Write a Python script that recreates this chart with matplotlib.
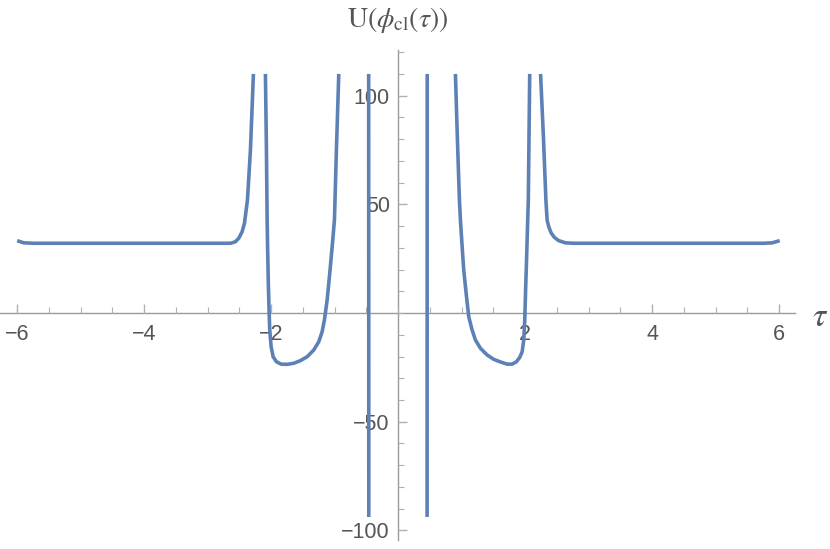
import matplotlib.pyplot as plt
from matplotlib.ticker import MultipleLocator

plt.rcParams['mathtext.fontset'] = 'stix'

# branches of the curve (tau, U)
tau_left = [-6.0, -5.896, -5.739, -4.7, -3.5, -2.87, -2.637, -2.562, -2.51, -2.457,
            -2.42, -2.373, -2.326, -2.279]
u_left = [33.3, 32.3, 32.1, 32.1, 32.1, 32.1, 32.1, 32.8, 34.4, 37.4,
          41.3, 52.0, 75.0, 110.0]

tau_well_l = [-2.09, -2.074, -2.063, -2.054, -2.043, -2.031, -2.022, -2.0, -1.969,
              -1.917, -1.843, -1.748, -1.644, -1.539, -1.433, -1.329, -1.25, -1.197,
              -1.161, -1.118, -1.077, -1.039, -1.003, -0.972, -0.935]
u_well_l = [110.0, 75.0, 42.8, 27.6, 12.1, -0.1, -7.8, -15.5, -20.1,
            -22.4, -23.5, -23.6, -23.1, -21.9, -20.1, -17.0, -13.2, -8.6,
            -3.2, 6.0, 18.3, 30.5, 42.8, 75.0, 110.0]

tau_pole_l = [-0.464, -0.463, -0.462]
u_pole_l = [110.0, 0.0, -93.8]

tau_pole_r = [0.456, 0.457, 0.458]
u_pole_r = [-93.8, 0.0, 110.0]

tau_well_r = [0.902, 0.934, 0.965, 0.981, 1.008, 1.033, 1.071, 1.112, 1.165, 1.217,
              1.296, 1.402, 1.506, 1.611, 1.717, 1.795, 1.863, 1.915, 1.953, 1.978,
              1.994, 2.009, 2.022, 2.036, 2.05, 2.072]
u_well_r = [110.0, 79.6, 52.0, 42.8, 30.5, 19.8, 9.1, -1.7, -7.8, -12.4,
            -16.2, -19.3, -21.3, -22.5, -23.5, -23.5, -22.4, -20.4, -17.8, -12.4,
            -3.2, 12.1, 24.0, 38.0, 52.0, 110.0]

tau_right = [2.243, 2.29, 2.327, 2.346, 2.372, 2.409, 2.461, 2.529, 2.635, 2.765,
             3.5, 4.7, 5.757, 5.89, 6.009]
u_right = [110.0, 79.6, 52.0, 42.8, 39.7, 36.9, 34.8, 33.3, 32.3, 32.1,
           32.1, 32.1, 32.1, 32.3, 33.3]

branches = [(tau_left, u_left), (tau_well_l, u_well_l), (tau_pole_l, u_pole_l),
            (tau_pole_r, u_pole_r), (tau_well_r, u_well_r), (tau_right, u_right)]

line_color = '#5E81B5'
axis_color = '#9a9a9a'
label_color = '#555555'

fig = plt.figure(figsize=(8.3, 5.49), dpi=100)
ax = fig.add_axes([0.0, 9 / 549, 795 / 830, 490 / 549])

for t, u in branches:
    ax.plot(t, u, color=line_color, linewidth=2.6, solid_capstyle='butt',
            solid_joinstyle='round', zorder=3)

ax.set_xlim(-6.27, 6.25)
ax.set_ylim(-104.4, 121)

for side in ['top', 'right']:
    ax.spines[side].set_visible(False)
ax.spines['left'].set_position(('data', 0))
ax.spines['bottom'].set_position(('data', 0))
for side in ['left', 'bottom']:
    ax.spines[side].set_color(axis_color)
    ax.spines[side].set_linewidth(1.0)
    ax.spines[side].set_zorder(1)

ax.xaxis.set_minor_locator(MultipleLocator(0.5))
ax.yaxis.set_minor_locator(MultipleLocator(10))

ax.set_xticks([-6, -4, -2, 2, 4, 6])
ax.set_xticklabels(['\u22126', '\u22124', '\u22122', '2', '4', '6'])
ax.set_yticks([-100, -50, 50, 100])
ax.set_yticklabels(['\u2212100', '\u221250', '50', '100'])

ax.tick_params(which='both', direction='in', colors='#b0b0b0', labelcolor=label_color,
               labelsize=15.5)
ax.tick_params(which='major', length=6.5, width=1.0)
ax.tick_params(which='minor', length=4.3, width=0.8)
ax.tick_params(axis='x', pad=8)
ax.tick_params(axis='y', pad=6)
for lab in ax.get_xticklabels() + ax.get_yticklabels():
    lab.set_fontfamily('Liberation Sans')

fig.text(398 / 830, 1 - 20 / 549, r'$\mathrm{U}(\phi_{\mathrm{cl}}(\tau))$',
         ha='center', va='center', fontsize=20, color=label_color)
fig.text(820 / 830, 1 - 317 / 549, r'$\tau$', ha='center', va='center',
         fontsize=24, color=label_color)

fig.savefig('out.png', dpi=100)
